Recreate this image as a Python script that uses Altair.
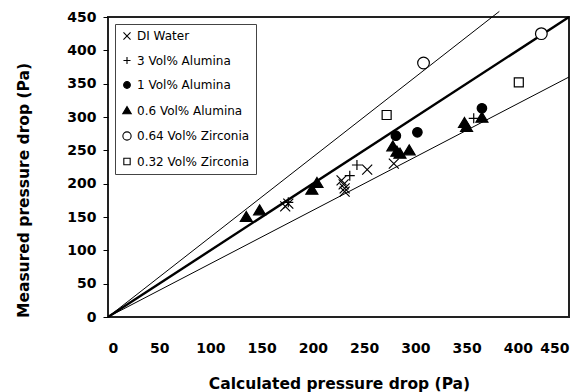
import altair as alt
import pandas as pd

series_names = [
    "DI Water",
    "3 Vol% Alumina",
    "1 Vol% Alumina",
    "0.6 Vol% Alumina",
    "0.64 Vol% Zirconia",
    "0.32 Vol% Zirconia",
]

# calculated vs measured pressure drop (Pa) for each fluid
di_calc = [173, 176, 228, 230, 231, 231, 253, 279]
di_meas = [166, 170, 205, 199, 193, 188, 221, 230]
al3_calc = [176, 236, 243, 357]
al3_meas = [172, 212, 228, 298]
al1_calc = [281, 302, 365]
al1_meas = [272, 277, 313]
al06_calc = [135, 148, 199, 204, 278, 282, 285, 294, 348, 350, 365]
al06_meas = [150, 160, 191, 201, 256, 248, 245, 250, 291, 285, 299]
zr064_calc = [308, 423]
zr064_meas = [381, 425]
zr032_calc = [272, 401]
zr032_meas = [303, 352]

# reference lines through the origin: +20 %, parity, -20 %
line_ratio = [1.2, 1.0, 0.8]
line_x_end = [382, 450, 450]


def circle_path(r):
    return f"M{r},0A{r},{r} 0 1,1 {-r},0A{r},{r} 0 1,1 {r},0Z"


# marker outlines in unit symbol space (relative sizes built into the paths)
marker_paths = [
    "M-1,-1L1,1M-1,1L1,-1",               # x
    "M-1,0L1,0M0,-1L0,1",                 # +
    circle_path(0.95),                    # filled circle
    "M0,-1.1L1.2,0.9L-1.2,0.9Z",          # filled triangle
    circle_path(1.17),                    # open circle
    "M-0.9,-0.9L0.9,-0.9L0.9,0.9L-0.9,0.9Z",  # open square
]
marker_fill = ["transparent", "transparent", "black", "black", "white", "white"]

rows = []
for name, xs, ys in zip(
    series_names,
    [di_calc, al3_calc, al1_calc, al06_calc, zr064_calc, zr032_calc],
    [di_meas, al3_meas, al1_meas, al06_meas, zr064_meas, zr032_meas],
):
    for x, y in zip(xs, ys):
        rows.append({"series": name, "calc": x, "meas": y})
points = pd.DataFrame(rows)

line_rows = []
for r, xe in zip(line_ratio, line_x_end):
    line_rows.append({"ratio": r, "calc": 0, "meas": 0})
    line_rows.append({"ratio": r, "calc": xe, "meas": r * xe})
lines = pd.DataFrame(line_rows)

FONT = "DejaVu Sans"

x_scale = alt.Scale(domain=[0, 450], nice=False, zero=True)
y_scale = alt.Scale(domain=[0, 450], nice=False, zero=True)

x_axis = alt.Axis(
    title="Calculated pressure drop (Pa)",
    values=list(range(0, 451, 50)),
    grid=False, ticks=False, domain=False,
    labelPadding=24, labelFontSize=14, labelFontWeight="bold",
    labelColor="black", labelFont=FONT,
    titleFontSize=15.5, titleFontWeight="bold", titleFont=FONT,
    titleColor="black", titleX=231, titleY=66, titleBaseline="middle",
)
y_axis = alt.Axis(
    title="Measured pressure drop (Pa)",
    values=list(range(0, 451, 50)),
    grid=False, ticks=True, tickSize=5, tickColor="black", tickWidth=1,
    domain=False, labelPadding=7, labelFontSize=14, labelFontWeight="bold",
    labelColor="black", labelFont=FONT,
    titleFontSize=15.5, titleFontWeight="bold", titleFont=FONT,
    titleColor="black", titleX=-85, titleY=173, titleAngle=-90,
    titleBaseline="middle", titleAlign="center",
)

base_x = alt.X("calc:Q", scale=x_scale, axis=x_axis)
base_y = alt.Y("meas:Q", scale=y_scale, axis=y_axis)

thin_lines = (
    alt.Chart(lines)
    .transform_filter(alt.datum.ratio != 1.0)
    .mark_line(color="black", strokeWidth=1, clip=False)
    .encode(x=base_x, y=base_y, detail="ratio:N")
)
thick_line = (
    alt.Chart(lines)
    .transform_filter(alt.datum.ratio == 1.0)
    .mark_line(color="black", strokeWidth=2.4, clip=False)
    .encode(x=base_x, y=base_y, detail="ratio:N")
)

legend = alt.Legend(
    orient="top-left", offset=7, title=None,
    labelFont=FONT, labelFontSize=12, labelColor="black",
    symbolSize=50, symbolStrokeWidth=1.1, symbolOpacity=1,
    rowPadding=12.5, padding=6, strokeColor="#444", fillColor="white",
)

pts = (
    alt.Chart(points)
    .mark_point(filled=False, stroke="black", strokeWidth=1.2, size=100, opacity=1)
    .encode(
        x=base_x,
        y=base_y,
        shape=alt.Shape("series:N", scale=alt.Scale(domain=series_names, range=marker_paths), legend=legend),
        fill=alt.Fill("series:N", scale=alt.Scale(domain=series_names, range=marker_fill), legend=legend),
    )
)

chart = (
    alt.layer(thin_lines, thick_line, pts)
    .properties(
        width=461, height=300,
        autosize=alt.AutoSizeParams(type="none"),
        padding={"left": 108, "top": 17, "right": 17, "bottom": 75},
        background="white",
    )
    .configure_view(stroke="#222", strokeWidth=2)
)

chart.save("out.html", embed_options={"renderer": "svg", "actions": False})
